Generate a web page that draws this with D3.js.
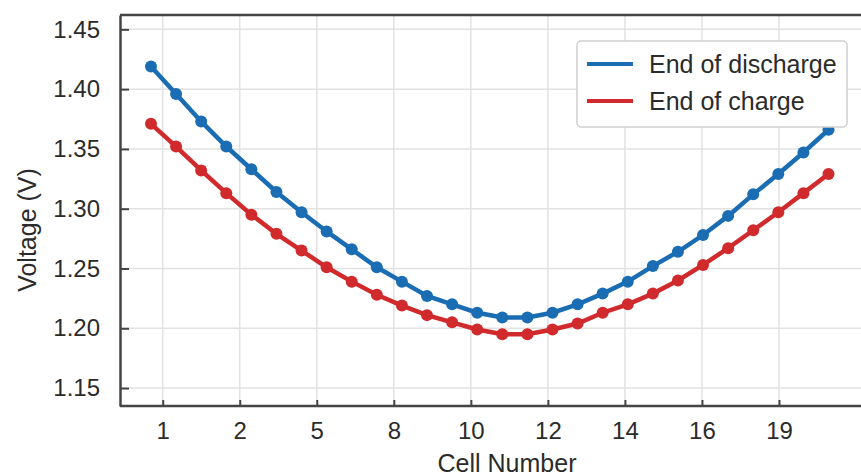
<!DOCTYPE html>
<html>
<head>
<meta charset="utf-8">
<script src="https://cdn.jsdelivr.net/npm/d3@7"></script>
<style>
body { margin: 0; background: #fff; }
text { font-family: "Liberation Sans", Arial, sans-serif; fill: #2b2b2b; }
</style>
</head>
<body>
<script>
// cell tick labels as printed on the axis
var tickLabels = ["1", "2", "5", "8", "10", "12", "14", "16", "19"];
var yTicks = [1.15, 1.20, 1.25, 1.30, 1.35, 1.40, 1.45];

var seriesNames = ["End of discharge", "End of charge"];

var dataDischarge = [1.419, 1.396, 1.373, 1.352, 1.333, 1.314, 1.297, 1.281, 1.266, 1.251,
                     1.239, 1.227, 1.220, 1.213, 1.209, 1.209, 1.213, 1.220, 1.229, 1.239,
                     1.252, 1.264, 1.278, 1.294, 1.312, 1.329, 1.347, 1.366];
var dataCharge    = [1.371, 1.352, 1.332, 1.313, 1.295, 1.279, 1.265, 1.251, 1.239, 1.228,
                     1.219, 1.211, 1.205, 1.199, 1.195, 1.195, 1.199, 1.204, 1.213, 1.220,
                     1.229, 1.240, 1.253, 1.267, 1.282, 1.297, 1.313, 1.329];

var colors = ["#1b6db3", "#d02a2c"];

var margin = {top: 15, right: 0, bottom: 70, left: 120};
var width = 750;
var height = 391;

var xScale = d3.scaleLinear().domain([0, dataDischarge.length - 1]).range([31, 708.5]);
var tickScale = d3.scalePoint().domain(tickLabels).range([42.7, 659]);
var yScale = d3.scaleLinear().domain([1.135, 1.462]).range([height, 0]);

var svg = d3.select("body").append("svg")
.attr("width", 861)
.attr("height", 476);

var mySVG = svg.append("g")
.attr("transform", "translate(" + margin.left + "," + margin.top + ")");

// grid
mySVG.append("g")
.selectAll("line.gy")
.data(yTicks)
.enter().append("line")
.attr("x1", 0).attr("x2", width)
.attr("y1", function(d) { return yScale(d); })
.attr("y2", function(d) { return yScale(d); })
.attr("stroke", "#e2e2e2")
.attr("stroke-width", 1.5);

mySVG.append("g")
.selectAll("line.gx")
.data(tickLabels)
.enter().append("line")
.attr("y1", 0).attr("y2", height)
.attr("x1", function(d) { return tickScale(d); })
.attr("x2", function(d) { return tickScale(d); })
.attr("stroke", "#e2e2e2")
.attr("stroke-width", 1.5);

// axes
var xAxis = d3.axisBottom(tickScale).tickSizeInner(-6).tickSizeOuter(0).tickPadding(16);
var xAxisGroup = mySVG.append("g")
.attr("class", "xAxis")
.attr("transform", "translate(0," + height + ")")
.call(xAxis);

var yAxis = d3.axisLeft(yScale).tickValues(yTicks).tickFormat(d3.format(".2f"))
.tickSizeInner(-9).tickSizeOuter(0).tickPadding(20);
var yAxisGroup = mySVG.append("g")
.attr("class", "yAxis")
.call(yAxis);

mySVG.selectAll(".xAxis text, .yAxis text")
.style("font-size", "24px")
.attr("fill", "#2b2b2b");
mySVG.selectAll(".xAxis .tick line, .yAxis .tick line")
.attr("stroke", "#444")
.attr("stroke-width", 2);
mySVG.selectAll(".xAxis .domain").remove();
mySVG.selectAll(".yAxis .domain")
.attr("stroke", "#444")
.attr("stroke-width", 2.5);

// top and bottom frame
[0, height].forEach(function(y) {
  mySVG.append("line")
  .attr("x1", 0).attr("x2", width)
  .attr("y1", y).attr("y2", y)
  .attr("stroke", "#444")
  .attr("stroke-width", 2.5);
});

// lines and markers
var linePath = d3.line()
.x(function(d, i) { return xScale(i); })
.y(function(d) { return yScale(d); });

[dataDischarge, dataCharge].forEach(function(series, s) {
  mySVG.append("path")
  .attr("stroke", colors[s])
  .attr("stroke-width", 4.5)
  .attr("fill", "none")
  .attr("d", linePath(series));

  mySVG.append("g")
  .selectAll("circle")
  .data(series)
  .enter().append("circle")
  .attr("cx", function(d, i) { return xScale(i); })
  .attr("cy", function(d) { return yScale(d); })
  .attr("r", 6)
  .attr("fill", colors[s]);
});

// axis titles
svg.append("text")
.attr("x", 507)
.attr("y", 472)
.attr("text-anchor", "middle")
.style("font-size", "25px")
.text("Cell Number");

svg.append("text")
.attr("transform", "translate(36,230) rotate(-90)")
.attr("text-anchor", "middle")
.style("font-size", "25px")
.text("Voltage (V)");

// legend
var legend = mySVG.append("g")
.attr("transform", "translate(457,26)");

legend.append("rect")
.attr("width", 270)
.attr("height", 86)
.attr("rx", 4)
.attr("fill", "#fff")
.attr("stroke", "#cfcfcf")
.attr("stroke-width", 1.5);

seriesNames.forEach(function(name, s) {
  var g = legend.append("g").attr("transform", "translate(0," + (23 + s * 37) + ")");
  g.append("line")
  .attr("x1", 10).attr("x2", 56)
  .attr("stroke", colors[s])
  .attr("stroke-width", 4);
  g.append("text")
  .attr("x", 72)
  .attr("y", 9)
  .style("font-size", "25px")
  .text(name);
});
</script>
</body>
</html>
